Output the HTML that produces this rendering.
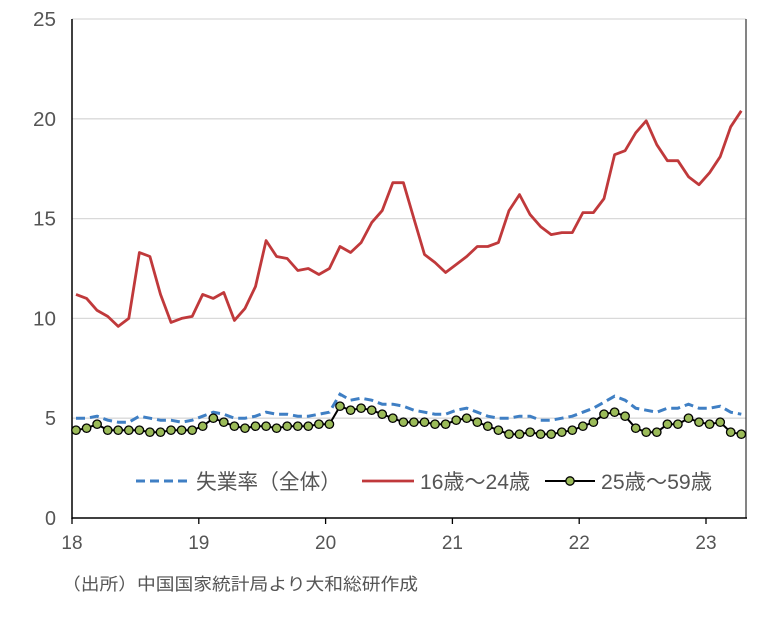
<!DOCTYPE html>
<html><head><meta charset="utf-8"><style>
html,body{margin:0;padding:0;background:#fff;}
svg text{font-family:"Liberation Sans","Noto Sans CJK JP",sans-serif;fill:#555;}
</style></head><body>
<svg id="c" width="773" height="616" xmlns="http://www.w3.org/2000/svg"></svg>
<script>
const red=[11.2,11.0,10.4,10.1,9.6,10.0,13.3,13.1,11.2,9.8,10.0,10.1,
11.2,11.0,11.3,9.9,10.5,11.6,13.9,13.1,13.0,12.4,12.5,12.2,
12.5,13.6,13.3,13.8,14.8,15.4,16.8,16.8,15.0,13.2,12.8,12.3,
12.7,13.1,13.6,13.6,13.8,15.4,16.2,15.2,14.6,14.2,14.3,14.3,
15.3,15.3,16.0,18.2,18.4,19.3,19.9,18.7,17.9,17.9,17.1,16.7,
17.3,18.1,19.6,20.4];
const blue=[5.0,5.0,5.1,4.9,4.8,4.8,5.1,5.0,4.9,4.9,4.8,4.9,
5.1,5.3,5.2,5.0,5.0,5.1,5.3,5.2,5.2,5.1,5.1,5.2,
5.3,6.2,5.9,6.0,5.9,5.7,5.7,5.6,5.4,5.3,5.2,5.2,
5.4,5.5,5.3,5.1,5.0,5.0,5.1,5.1,4.9,4.9,5.0,5.1,
5.3,5.5,5.8,6.1,5.9,5.5,5.4,5.3,5.5,5.5,5.7,5.5,
5.5,5.6,5.3,5.2];
const green=[4.4,4.5,4.7,4.4,4.4,4.4,4.4,4.3,4.3,4.4,4.4,4.4,
4.6,5.0,4.8,4.6,4.5,4.6,4.6,4.5,4.6,4.6,4.6,4.7,
4.7,5.6,5.4,5.5,5.4,5.2,5.0,4.8,4.8,4.8,4.7,4.7,
4.9,5.0,4.8,4.6,4.4,4.2,4.2,4.3,4.2,4.2,4.3,4.4,
4.6,4.8,5.2,5.3,5.1,4.5,4.3,4.3,4.7,4.7,5.0,4.8,
4.7,4.8,4.3,4.2];
const X=i=>76+i*10.56, Y=v=>518-v*19.96;
let s='';
for(let v=5;v<=25;v+=5){s+=`<line x1="72" x2="746" y1="${Y(v)}" y2="${Y(v)}" stroke="#d9d9d9" stroke-width="1.3"/>`;}
for(let v=0;v<=25;v+=5){s+=`<text x="56" y="${Y(v)+7}" font-size="20" text-anchor="end" textLength="${v<10?11:23}" lengthAdjust="spacingAndGlyphs">${v}</text>`;}
s+=`<line x1="746" x2="746" y1="${Y(25)}" y2="518" stroke="#333" stroke-width="1.2"/>`;
s+=`<line x1="72" x2="72" y1="${Y(25)}" y2="519" stroke="#000" stroke-width="1.5"/>`;
s+=`<line x1="72" x2="747" y1="518" y2="518" stroke="#000" stroke-width="1.5"/>`;
['18','19','20','21','22','23'].forEach((t,k)=>{const x=72+k*126.8;s+=`<line x1="${x}" x2="${x}" y1="518" y2="524" stroke="#000" stroke-width="1.3"/><text x="${x}" y="549" font-size="19" text-anchor="middle">${t}</text>`;});
const pts=a=>a.map((v,i)=>X(i).toFixed(1)+','+Y(v).toFixed(1)).join(' ');
s+=`<polyline points="${pts(red)}" fill="none" stroke="#c0393b" stroke-width="2.8" stroke-linejoin="round"/>`;
s+=`<polyline points="${pts(blue)}" fill="none" stroke="#3f7fc4" stroke-width="3" stroke-dasharray="9,5"/>`;
s+=`<polyline points="${pts(green)}" fill="none" stroke="#000" stroke-width="2"/>`;
green.forEach((v,i)=>{s+=`<circle cx="${X(i).toFixed(1)}" cy="${Y(v).toFixed(1)}" r="4.2" fill="#9bbb59" stroke="#000" stroke-width="1.3"/>`;});
s+=`<rect x="130" y="463" width="590" height="36" fill="#fff"/>`;
s+=`<line x1="136" x2="190" y1="481" y2="481" stroke="#3f7fc4" stroke-width="3" stroke-dasharray="9,5"/>`;
s+=`<text x="196" y="489" font-size="21" textLength="145" lengthAdjust="spacingAndGlyphs">失業率（全体）</text>`;
s+=`<line x1="362" x2="414" y1="481" y2="481" stroke="#c0393b" stroke-width="2.8"/>`;
s+=`<text x="420" y="489" font-size="21" textLength="110" lengthAdjust="spacingAndGlyphs">16歳～24歳</text>`;
s+=`<line x1="545" x2="595" y1="481" y2="481" stroke="#000" stroke-width="2"/><circle cx="570" cy="481" r="4.2" fill="#9bbb59" stroke="#000" stroke-width="1.3"/>`;
s+=`<text x="601" y="489" font-size="21" textLength="111" lengthAdjust="spacingAndGlyphs">25歳～59歳</text>`;
s+=`<text x="62" y="590" font-size="17" fill="#444" textLength="356" lengthAdjust="spacingAndGlyphs">（出所）中国国家統計局より大和総研作成</text>`;
document.getElementById('c').innerHTML=s;
</script>
</body></html>
